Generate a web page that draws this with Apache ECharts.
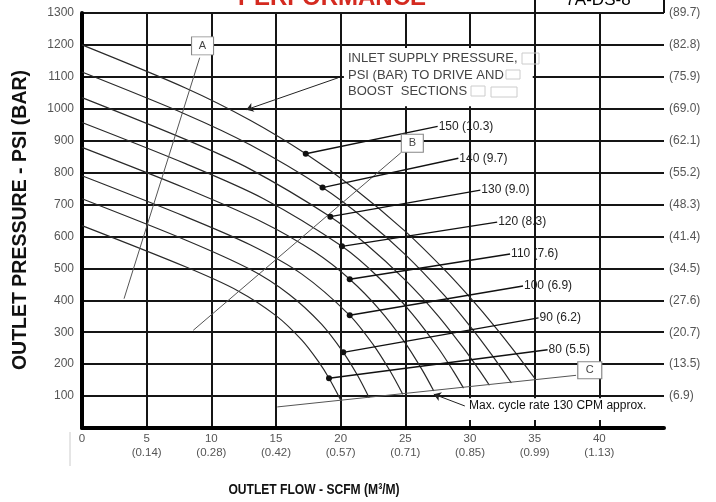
<!DOCTYPE html>
<html><head><meta charset="utf-8">
<script src="https://cdn.jsdelivr.net/npm/echarts@6/dist/echarts.min.js"></script>
<style>html,body{margin:0;padding:0;background:#fff}#c{width:716px;height:502px}</style>
</head><body><div id="c"></div>
<script>
// ---- data ----
const xTickValues = [0,5,10,15,20,25,30,35,40];
const xTickMetric = ['','(0.14)','(0.28)','(0.42)','(0.57)','(0.71)','(0.85)','(0.99)','(1.13)'];
const yBarLabels = ['','(6.9)','(13.5)','(20.7)','(27.6)','(34.5)','(41.4)','(48.3)','(55.2)','(62.1)','(69.0)','(75.9)','(82.8)','(89.7)'];
const curveNames = ['150 (10.3)','140 (9.7)','130 (9.0)','120 (8.3)','110 (7.6)','100 (6.9)','90 (6.2)','80 (5.5)'];
const curve150 = [[0,1200],[8,1065],[13,964],[17.3,859],[21,752],[25,616],[28,497],[30,409],[32,314],[33.5,237],[35,156]];
const curve140 = [[0,1115],[8,983],[13,887],[18.6,753],[22,650],[25,543],[28,416],[30,319],[31.7,228],[33.2,141]];
const curve130 = [[0,1035],[8,904],[13,811],[19.2,662],[22,575],[25,463],[27.5,353],[29.5,250],[30.7,182],[31.5,134]];
const curve120 = [[0,957],[8,828],[14,719],[20.1,569],[23,469],[25.5,359],[27.5,253],[28.7,179],[29.5,125]];
const curve110 = [[0,879],[8,751],[14,644],[18,551],[20.7,466],[23,371],[25,266],[26.3,182],[27.2,116]];
const curve100 = [[0,790],[8,662],[13,574],[17,482],[20.7,353],[22.5,262],[23.8,180],[24.8,106]];
const curve90  = [[0,718],[8,589],[13,497],[16,419],[18.5,326],[20.2,237],[21.3,165],[22.2,95]];
const curve80  = [[0,634],[8,505],[12,431],[15,352],[17,275],[18.3,207],[19.1,156],[20,88]];
const labelDots = [[17.3,859],[18.6,753],[19.2,662],[20.1,569],[20.7,466],[20.7,353],[20.2,237],[19.1,156]];
const labelAnchors = [[27.5,945],[29.1,845],[30.8,745],[32.1,645],[33.1,545],[34.1,445],[35.3,345],[36.0,245]];
const lineA = [[9.1,1160],[3.25,405]];
const lineB = [[24.65,862],[8.6,306]];
const lineC = [[15.1,66],[38.2,165]];
const boxNames = ['A','B','C'];
const boxPositions = [[9.32,1197],[25.54,892],[39.26,181]];
const inletArrow = [[19.8,1097],[12.7,997]];
const cycleArrow = [[29.6,69],[27.2,106]];
const inletText = ['INLET SUPPLY PRESSURE,','PSI (BAR) TO DRIVE AND','BOOST  SECTIONS'];
const cycleText = 'Max. cycle rate 130 CPM approx.';

// ---- chart ----
const FONT = '"Liberation Sans", Arial, sans-serif';
const chart = echarts.init(document.getElementById('c'));
const curves = [curve150,curve140,curve130,curve120,curve110,curve100,curve90,curve80];
const series = [];
curves.forEach((c,i)=>series.push({
  type:'line', name:curveNames[i], data:c, smooth:0.3,
  symbol:'none', silent:true, z:3, lineStyle:{color:'#2a2a2a', width:1.2}
}));
[lineA,lineB,lineC].forEach(l=>series.push({
  type:'line', data:l, symbol:'none', silent:true, z:3, lineStyle:{color:'#555', width:1}
}));
labelDots.forEach((d,i)=>series.push({
  type:'line', silent:true, z:4, showSymbol:true, itemStyle:{color:'#111'},
  lineStyle:{color:'#111', width:1.4},
  data:[{value:d, symbol:'circle', symbolSize:6},
        {value:labelAnchors[i], symbol:'none'}],
  endLabel:{show:true, distance:1, formatter:curveNames[i], color:'#222', fontSize:12, fontFamily:FONT}
}));
series.push({
  type:'scatter', silent:true, z:5, symbol:'rect',
  data: boxNames.map((n,i)=>({name:n, value:boxPositions[i], symbolSize: n==='C'?[24,17]:[22,18]})),
  itemStyle:{color:'#fff', borderColor:'#888', borderWidth:1, opacity:1},
  label:{show:true, position:'inside', formatter:'{b}', color:'#444', fontSize:11, fontFamily:FONT}
});
series.push({
  type:'line', data:[], z:1, silent:true,
  markArea:{silent:true, itemStyle:{color:'#fff', opacity:1},
    data:[[{coord:[20.25,1008]},{coord:[34.85,1190]}],[{coord:[27.5,25]},{coord:[44.9,93]}]]}
});
series.push({
  type:'lines', coordinateSystem:'cartesian2d', silent:true, z:6,
  symbol:['none','arrow'], symbolSize:7,
  lineStyle:{color:'#222', width:1, opacity:1},
  data:[{coords:inletArrow},{coords:cycleArrow}]
});

const option = {
  animation:false,
  grid:{left:82, right:52, top:13, bottom:74, containLabel:false},
  xAxis:{type:'value', min:0, max:45, interval:5,
    axisLine:{show:true, lineStyle:{color:'#000', width:4}},
    axisTick:{show:false},
    splitLine:{show:true, showMaxLine:false, lineStyle:{color:'#151515', width:2}},
    axisLabel:{color:'#555', fontSize:11.5, fontFamily:FONT, margin:4, lineHeight:14, showMaxLabel:false,
      formatter:v=>{const i=xTickValues.indexOf(v); if(i<0) return ''; return i===0?'0':v+'\n'+xTickMetric[i];}}
  },
  yAxis:[
    {type:'value', min:0, max:1300, interval:100, position:'left',
     axisLine:{show:true, lineStyle:{color:'#000', width:4}}, axisTick:{show:false},
     splitLine:{show:true, lineStyle:{color:'#151515', width:2}},
     axisLabel:{color:'#555', fontSize:12, fontFamily:FONT, margin:8, formatter:v=>v===0?'':String(v)}},
    {type:'value', min:0, max:1300, interval:100, position:'right',
     axisLine:{show:false}, axisTick:{show:false}, splitLine:{show:false},
     axisLabel:{color:'#555', fontSize:12, fontFamily:FONT, margin:5, formatter:v=>yBarLabels[Math.round(v/100)]||''}}
  ],
  series: series,
  graphic:[
    {type:'text', x:238, y:-14, z:100, style:{text:'PERFORMANCE', fill:'#d42a20', font:'bold 24px '+FONT, align:'left', verticalAlign:'top'}},
    {type:'line', z:100, shape:{x1:535,y1:0,x2:535,y2:13}, style:{stroke:'#111', lineWidth:2}},
    {type:'line', z:100, shape:{x1:664,y1:0,x2:664,y2:13}, style:{stroke:'#111', lineWidth:2}},
    {type:'text', x:598, y:-8, z:100, style:{text:'7A-DS-8', fill:'#000', font:'17px '+FONT, align:'center', verticalAlign:'top'}},
    {type:'text', x:348, y:58, z:100, style:{text:inletText[0], fill:'#444', font:'13px '+FONT, verticalAlign:'middle'}},
    {type:'text', x:348, y:75, z:100, style:{text:inletText[1], fill:'#444', font:'13px '+FONT, verticalAlign:'middle'}},
    {type:'text', x:348, y:91, z:100, style:{text:inletText[2], fill:'#444', font:'13px '+FONT, verticalAlign:'middle'}},
    {type:'rect', z:100, shape:{x:522,y:53,width:17,height:11}, style:{fill:'none', stroke:'#ccc', lineWidth:1}},
    {type:'rect', z:100, shape:{x:506,y:70,width:14,height:9}, style:{fill:'none', stroke:'#ccc', lineWidth:1}},
    {type:'rect', z:100, shape:{x:471,y:86,width:14,height:10}, style:{fill:'none', stroke:'#ccc', lineWidth:1}},
    {type:'rect', z:100, shape:{x:491,y:87,width:26,height:10}, style:{fill:'none', stroke:'#ccc', lineWidth:1}},
    {type:'text', x:469, y:406, z:100, style:{text:cycleText, fill:'#111', font:'12px '+FONT, verticalAlign:'middle'}},
    {type:'line', z:100, shape:{x1:70,y1:432,x2:70,y2:466}, style:{stroke:'#ccc', lineWidth:1}},
    {type:'text', x:21, y:220, rotation:Math.PI/2, z:100, style:{text:'OUTLET PRESSURE - PSI (BAR)', fill:'#111', font:'bold 19.5px '+FONT, align:'center', verticalAlign:'middle'}},
    {type:'text', x:314, y:490, scaleX:0.78, z:100, style:{text:'OUTLET FLOW - SCFM (M³/M)', fill:'#111', font:'bold 15.5px '+FONT, align:'center', verticalAlign:'middle'}}
  ]
};
chart.setOption(option);
</script></body></html>
